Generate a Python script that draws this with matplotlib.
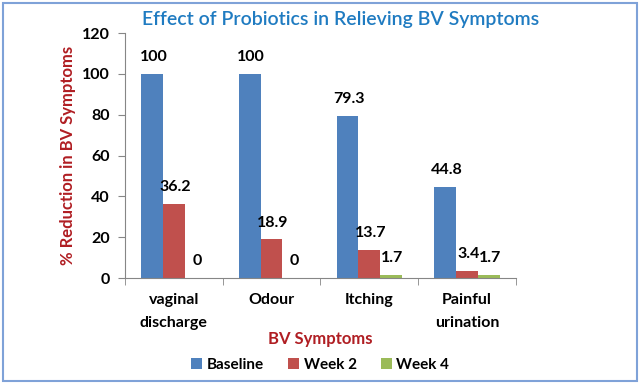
import numpy as np
import matplotlib.pyplot as plt
from matplotlib.patches import Rectangle

plt.rcParams['font.family'] = ['Lato', 'DejaVu Sans']

categories = ['vaginal\ndischarge', 'Odour', 'Itching', 'Painful\nurination']
series = ['Baseline', 'Week 2', 'Week 4']
baseline = [100, 100, 79.3, 44.8]
week2 = [36.2, 18.9, 13.7, 3.4]
week4 = [0, 0, 1.7, 1.7]
labels = [['100', '100', '79.3', '44.8'],
          ['36.2', '18.9', '13.7', '3.4'],
          ['0', '0', '1.7', '1.7']]
colors = ['#4F81BD', '#C0504D', '#9BBB59']

fig = plt.figure(figsize=(6.4, 3.84), dpi=100)
fig.patch.set_facecolor('white')
fig.patches.append(Rectangle((0.004, 0.008), 0.992, 0.985, transform=fig.transFigure,
                             fill=False, edgecolor='#7FA2D8', linewidth=1.5))

ax = fig.add_axes([0.195, 0.276, 0.611, 0.638])

x = np.arange(len(categories))
w = 0.222
data = [baseline, week2, week4]
for i, vals in enumerate(data):
    pos = x + (i - 1) * w
    ax.bar(pos, vals, width=w, color=colors[i], label=series[i])
    for p, v, t in zip(pos, vals, labels[i]):
        ax.annotate(t, (p, v), xytext=(1, 7), textcoords='offset points',
                    ha='center', va='bottom', fontsize=11.5, fontweight='bold')

ax.set_xlim(-0.5, 3.5)
ax.set_ylim(0, 120)
ax.set_yticks(range(0, 121, 20))
ax.set_xticks(x)
ax.set_xticklabels(categories, fontsize=11.5, fontweight='bold', linespacing=1.75)
ax.set_xticks(np.arange(-0.5, 4, 1), minor=True)
ax.tick_params(axis='x', which='major', length=0, pad=11)
ax.tick_params(axis='x', which='minor', length=5, color='#868686')
ax.tick_params(axis='y', length=5, color='#868686', labelsize=11.5, pad=6)
for lab in ax.get_yticklabels():
    lab.set_fontweight('bold')
for s in ['top', 'right']:
    ax.spines[s].set_visible(False)
for s in ['left', 'bottom']:
    ax.spines[s].set_color('#868686')

ax.set_ylabel('% Reduction in BV Symptoms', color='#B01E23', fontsize=12,
              fontweight='bold', labelpad=4)
ax.set_xlabel('BV Symptoms', color='#B01E23', fontsize=12, fontweight='bold', labelpad=1)

fig.text(0.532, 0.926, 'Effect of Probiotics in Relieving BV Symptoms', color='#1F7BC1',
         fontsize=14, fontweight='semibold', ha='center', va='bottom')

leg = ax.legend(loc='upper center', bbox_to_anchor=(0.5, -0.27), ncol=3, frameon=False,
                fontsize=11, handlelength=0.7, handleheight=0.7, handletextpad=0.3,
                columnspacing=1.6)
for t in leg.get_texts():
    t.set_fontweight('bold')

fig.savefig('out.png', dpi=100)
